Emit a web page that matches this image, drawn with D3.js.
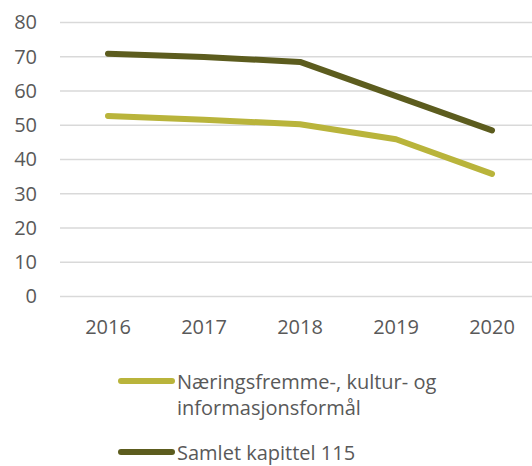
<!DOCTYPE html>
<html>
<head>
<meta charset="utf-8">
<script src="https://cdn.jsdelivr.net/npm/d3@7"></script>
<style>
  body { margin: 0; background: #fff; }
  text { font-family: "Open Sans", "Liberation Sans", sans-serif; fill: #595959; }
</style>
</head>
<body>
<div id="chart"></div>
<script>
// chart data
var years = ["2016", "2017", "2018", "2019", "2020"];
var naering = [52.7, 51.6, 50.3, 45.9, 35.8];
var samlet = [70.9, 69.9, 68.5, 58.5, 48.5];
var seriesNames = ["Næringsfremme-, kultur- og|informasjonsformål", "Samlet kapittel 115"];
var seriesColors = ["#B9B43B", "#5C5C1E"];
var yTicks = [0, 10, 20, 30, 40, 50, 60, 70, 80];

var svgWidth = 532;
var svgHeight = 466;

var svg = d3.select("#chart")
    .append("svg")
    .attr("width", svgWidth)
    .attr("height", svgHeight);

var xScale = d3.scaleBand()
    .domain(years)
    .range([60, 540]);

var yScale = d3.scaleLinear()
    .domain([0, 80])
    .range([296.5, 22.5]);

// gridlines
svg.append("g")
    .selectAll("line")
    .data(yTicks)
    .enter()
    .append("line")
    .attr("x1", 60)
    .attr("x2", 532)
    .attr("y1", d => yScale(d))
    .attr("y2", d => yScale(d))
    .attr("stroke", "#D9D9D9")
    .attr("stroke-width", 1.5);

// y axis labels
var leftAxis = d3.axisLeft(yScale).tickValues(yTicks).tickSize(0).tickPadding(0);
var yAxisG = svg.append("g")
    .attr("transform", "translate(37,0)")
    .call(leftAxis);
yAxisG.select(".domain").remove();
yAxisG.selectAll("text")
    .attr("font-size", "20px")
    .attr("fill", "#595959")
    .attr("font-family", "\"Open Sans\", sans-serif");

// x axis labels
var bottomAxis = d3.axisBottom(xScale).tickSize(0).tickPadding(0);
var xAxisG = svg.append("g")
    .attr("transform", "translate(0,320)")
    .call(bottomAxis);
xAxisG.select(".domain").remove();
xAxisG.selectAll("text")
    .attr("font-size", "20px")
    .attr("fill", "#595959")
    .attr("font-family", "\"Open Sans\", sans-serif");

var line = d3.line()
    .x((d, i) => xScale(years[i]) + xScale.bandwidth() / 2)
    .y(d => yScale(d));

[naering, samlet].forEach(function (vals, i) {
    svg.append("path")
        .datum(vals)
        .attr("d", line)
        .attr("fill", "none")
        .attr("stroke", seriesColors[i])
        .attr("stroke-width", 6)
        .attr("stroke-linecap", "round")
        .attr("stroke-linejoin", "round");
});

// legend
var legendY = [381, 452];
seriesNames.forEach(function (name, i) {
    var g = svg.append("g");
    g.append("line")
        .attr("x1", 121)
        .attr("x2", 172)
        .attr("y1", legendY[i])
        .attr("y2", legendY[i])
        .attr("stroke", seriesColors[i])
        .attr("stroke-width", 6)
        .attr("stroke-linecap", "round");
    name.split("|").forEach(function (part, j) {
        g.append("text")
            .attr("x", 177)
            .attr("y", legendY[i] + 8 + j * 25.5)
            .attr("font-size", "20px")
            .text(part);
    });
});
</script>
</body>
</html>
